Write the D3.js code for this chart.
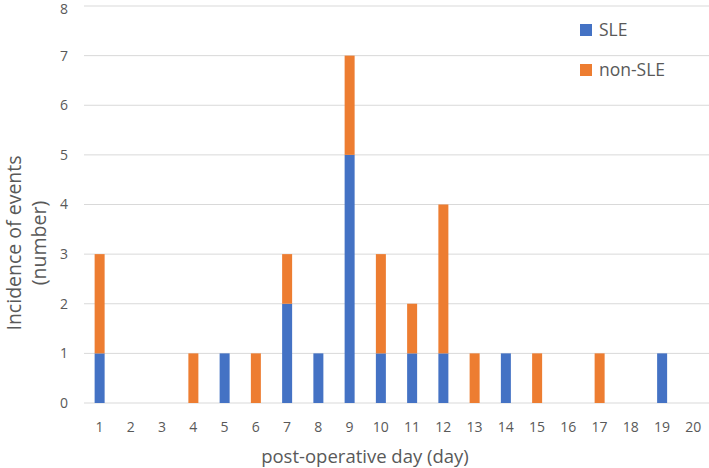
<!DOCTYPE html>
<html lang="en">
<head>
  <meta charset="UTF-8">
  <title>Incidence of events by post-operative day</title>
  <style>
    body { margin: 0; background: #fff; }
    text { font-family: "Open Sans", sans-serif; fill: #595959; }
  </style>
</head>
<body>
<svg id="chart" width="709" height="468"></svg>
<script src="https://d3js.org/d3.v7.min.js"></script>
<script>
  // data
  const days = ["1","2","3","4","5","6","7","8","9","10","11","12","13","14","15","16","17","18","19","20"];
  const sle    = [1,0,0,0,1,0,2,1,5,1,1,1,0,1,0,0,0,0,1,0];
  const nonSle = [2,0,0,1,0,1,1,0,2,2,1,3,1,0,1,0,1,0,0,0];
  const yTicks = [0,1,2,3,4,5,6,7,8];
  const seriesNames = ["SLE", "non-SLE"];
  const colors = ["#4472C4", "#ED7D31"];

  const svg = d3.select("#chart"),
    plotLeft = 84, plotRight = 709, plotTop = 6, plotBottom = 403;

  const x = d3.scaleBand().domain(days).range([plotLeft, plotRight]).paddingInner(0.68).paddingOuter(0.34);
  const y = d3.scaleLinear().domain([0, 8]).range([plotBottom, plotTop]);

  // gridlines
  svg.append("g").selectAll("line")
    .data(yTicks)
    .join("line")
      .attr("x1", plotLeft).attr("x2", plotRight)
      .attr("y1", d => y(d)).attr("y2", d => y(d))
      .attr("stroke", "#D9D9D9").attr("stroke-width", 1);

  // stacked bars
  const rows = days.map((d, i) => ({day: d, SLE: sle[i], "non-SLE": nonSle[i]}));
  const stack = d3.stack().keys(seriesNames)(rows);

  svg.append("g").selectAll("g")
    .data(stack)
    .join("g")
      .attr("fill", (d, i) => colors[i])
    .selectAll("rect")
    .data(d => d)
    .join("rect")
      .attr("x", d => x(d.data.day))
      .attr("width", x.bandwidth())
      .attr("y", d => y(d[1]))
      .attr("height", d => y(d[0]) - y(d[1]));

  // y tick labels (top one nudged down so it stays on the page)
  svg.append("g").selectAll("text")
    .data(yTicks)
    .join("text")
      .attr("x", 68).attr("y", d => Math.max(y(d), 9))
      .attr("dy", "0.35em")
      .attr("text-anchor", "end")
      .style("font-size", "14px")
      .text(d => d);

  // x tick labels
  svg.append("g").selectAll("text")
    .data(days)
    .join("text")
      .attr("x", d => x(d) + x.bandwidth() / 2)
      .attr("y", 427).attr("dy", "0.35em")
      .attr("text-anchor", "middle")
      .style("font-size", "14px")
      .text(d => d);

  // axis titles
  svg.append("text")
    .attr("x", 365).attr("y", 463)
    .attr("text-anchor", "middle")
    .style("font-size", "18.5px")
    .text("post-operative day (day)");

  const yt = svg.append("text")
    .attr("transform", "translate(21,243) rotate(-90)")
    .attr("text-anchor", "middle")
    .style("font-size", "19.5px");
  yt.append("tspan").attr("x", 0).attr("dy", 0).text("Incidence of events");
  yt.append("tspan").attr("x", 0).attr("dy", 25).text("(number)");

  // legend
  const legend = svg.append("g").selectAll("g")
    .data(seriesNames)
    .join("g")
      .attr("transform", (d, i) => `translate(580,${30 + i * 40})`);
  legend.append("rect")
    .attr("x", 0).attr("y", -6).attr("width", 12).attr("height", 12)
    .attr("fill", (d, i) => colors[i]);
  legend.append("text")
    .attr("x", 19).attr("dy", "0.35em")
    .style("font-size", "17.5px")
    .text(d => d);
</script>
</body>
</html>
